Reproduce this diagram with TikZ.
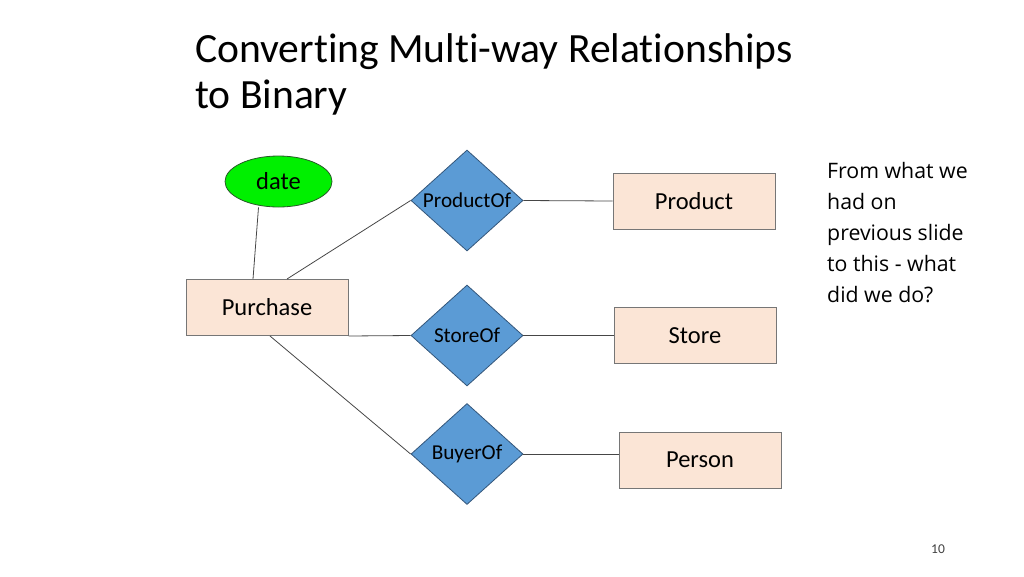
\documentclass[tikz,border=0pt]{standalone}
\usepackage{fontspec}
\setmainfont{Carlito}[Ligatures=NoCommon]
\newfontfamily\notefont{Open Sans}
\usepackage{tikz}
\usetikzlibrary{shapes.geometric}
\definecolor{entityfill}{RGB}{251,229,214}
\definecolor{boxgray}{RGB}{118,118,118}
\definecolor{relfill}{RGB}{91,155,213}
\definecolor{relborder}{RGB}{52,86,122}
\definecolor{attrfill}{RGB}{0,240,0}
\definecolor{attrborder}{RGB}{40,90,40}
\definecolor{linegray}{RGB}{70,70,70}
\tikzstyle{line} = [draw=linegray, line width=0.8pt]
\tikzstyle{entity} = [rectangle, minimum width=162pt, minimum height=56pt, draw=boxgray, line width=1pt, fill=entityfill, font=\fontsize{24.5}{28}\selectfont]
\tikzstyle{relation} = [diamond, minimum width=112pt, minimum height=101pt, inner sep=0pt, draw=relborder, line width=0.8pt, fill=relfill]
\tikzstyle{attribute} = [ellipse, minimum width=107pt, minimum height=51pt, draw=attrborder, line width=0.8pt, fill=attrfill, font=\fontsize{24.5}{28}\selectfont]
\tikzstyle{rellabel} = [font=\fontsize{21.2}{24}\selectfont]

\begin{document}
\begin{tikzpicture}[x=1pt, y=-1pt, node distance=135pt]
        \useasboundingbox (0,0) rectangle (1024,576);
        \node (title) [anchor=north west, inner sep=0pt, align=left, font=\fontsize{41.6}{46}\selectfont] at (195,33) {Converting Multi-way Relationships\\to Binary};
        \node (purchase) [entity] at (267,307.5) {Purchase};
        \node (date) [attribute, above of=purchase, xshift=11.5pt, yshift=-9pt] {date};
        \node (productof) [relation, right of=purchase, xshift=65pt, yshift=107pt, label={[rellabel]center:ProductOf}] {};
        \node (storeof) [relation, below of=productof, label={[rellabel]center:StoreOf}] {};
        \node (buyerof) [relation, below of=storeof, yshift=16.5pt, label={[rellabel]center:BuyerOf}] {};
        \node (product) [entity, right of=productof, xshift=92pt, yshift=-0.5pt] {Product};
        \node (store) [entity, right of=storeof, xshift=93pt] {Store};
        \node (person) [entity, right of=buyerof, xshift=98pt, yshift=-6pt] {Person};
        \node (note) [anchor=north west, inner sep=0pt, align=left, font=\notefont\fontsize{21.3}{31}\selectfont] at (827,162) {From what we\\had on\\previous slide\\to this - what\\did we do?};
        \node (pagenum) [text=black!75, font=\fontsize{13.5}{15}\selectfont] at (938,549) {10};
        \draw [line] ([xshift=-20pt]date.south) -- ([xshift=-14pt]purchase.north);
        \draw [line] ([xshift=20pt]purchase.north) -- (productof.west);
        \draw [line] (purchase.south east) -- (storeof.west);
        \draw [line] ([xshift=3pt]purchase.south) -- (buyerof.west);
        \draw [line] (productof.east) -- (product.west);
        \draw [line] (storeof.east) -- (store.west);
        \draw [line] (buyerof.east) -- (buyerof.east -| person.west);
    \end{tikzpicture}
\end{document}
